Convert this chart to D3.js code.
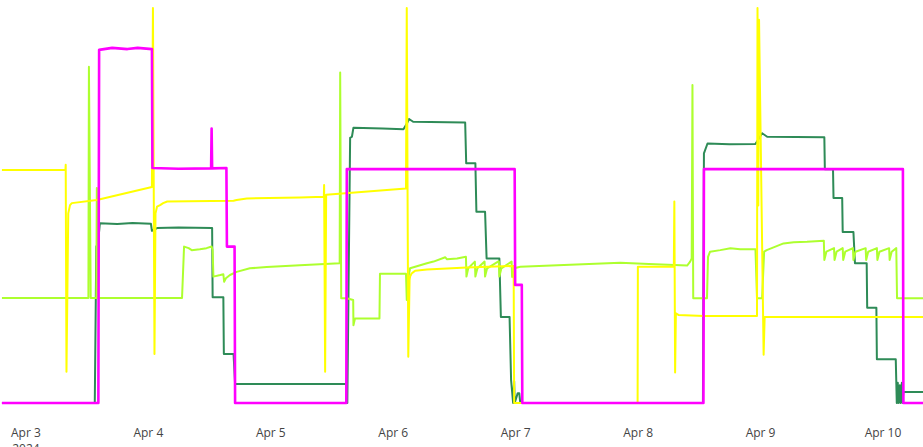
<!DOCTYPE html>
<html>
<head>
<meta charset="utf-8">
<script src="https://cdn.jsdelivr.net/npm/d3@7"></script>
<style>
  html, body { margin: 0; padding: 0; background: #fff; }
  svg { display: block; }
</style>
</head>
<body>
<svg id="chart" width="923" height="447"></svg>
<script>
// Time is given in hours after 2024-04-03 00:00; values in percent of the plot height.
const tickLabels = ["Apr 3", "Apr 4", "Apr 5", "Apr 6", "Apr 7", "Apr 8", "Apr 9", "Apr 10"];
const tickYear = "2024";

const seriesGreen = [
  [-4.6,0],[13.6,0],[13.9,39.7],[14.2,40.0],[14.6,45.5],[18,45.3],[21,45.6],[24.6,45.4],[24.8,43.6],[25.8,44.3],
  [30,44.4],[36.6,44.3],[36.7,26.8],[38.8,26.8],[38.9,12.4],[40.8,12.4],[41.1,4.8],[63.0,4.8],[63.1,0],
  [63.65,67.1],[64.0,67.4],[64.3,69.7],[70,69.5],[74.1,69.3],[74.8,70.8],[75.2,71.9],[76.0,71.2],[86.2,71.0],
  [86.4,60.7],[88.2,60.7],[88.4,48.4],[90.1,48.4],[90.4,36.6],[92.9,36.6],[93.2,21.8],[94.9,21.8],[95.2,5.8],
  [95.6,0],[95.8,5.5],[95.9,0],[96.5,2.5],[96.8,2.5],[97.0,0],[132.8,0],[133.0,63.2],[133.7,65.7],[138,65.5],
  [143.1,65.6],[143.4,66.2],[144.4,68.3],[145.4,67.4],[156.6,67.3],[156.7,59.2],[158.3,59.2],[158.4,51.9],
  [160.1,51.9],[160.2,43.3],[162.3,43.3],[162.6,35.4],[164.9,35.4],[165.0,24.1],[166.8,24.1],[166.9,11.1],
  [170.6,11.1],[170.8,0],[171.0,5.1],[171.1,0],[171.4,4.5],[171.5,0],[171.8,5.1],[171.9,0],[172.1,2.8],[176,2.8]
];

const seriesLime = [
  [-4.6,26.6],[12.35,26.6],[12.45,85.1],[12.8,26.6],[13.9,26.6],[14.0,54.4],[14.2,26.6],[30.7,26.6],[31.1,39.6],
  [32.0,39.2],[32.6,38.7],[34.2,38.9],[35.5,39.2],[36.5,39.6],[36.7,38.7],[36.85,32.0],[38.2,32.4],[38.8,32.6],
  [38.95,30.7],[39.3,31.6],[40.1,32.4],[41.4,33.2],[44.0,34.1],[47.3,34.4],[53.8,34.9],[61.6,35.4],[61.7,83.7],
  [61.9,26.5],[63.0,26.5],[64.25,26.1],[64.3,19.7],[64.6,21.4],[69.4,21.4],[69.5,32.7],[74.6,32.7],[74.75,26.1],
  [75.1,32.0],[75.4,34.1],[76.4,34.5],[78.7,35.4],[80.0,35.8],[82.3,36.9],[82.6,36.4],[84.6,36.6],[86.35,37.0],
  [86.45,32.0],[86.8,34.1],[88.1,35.8],[88.2,32.0],[88.6,34.1],[90.0,35.8],[90.1,32.0],[90.5,34.1],[92.8,35.9],
  [92.9,32.0],[93.3,34.1],[95.3,35.8],[95.4,31.9],[96.0,34.2],[97.0,34.5],[116.6,35.5],[122.2,35.2],[129.7,34.8],
  [130.3,35.8],[130.6,36.6],[130.75,80.5],[130.9,26.5],[133.6,26.5],[133.8,37.0],[134.2,38.3],[136.2,38.7],
  [138.2,39.2],[140.1,38.9],[143.1,38.9],[143.4,26.5],[144.4,26.5],[144.8,38.3],[145.3,38.7],[148.6,40.4],
  [150.6,40.7],[153.2,40.8],[156.5,41.1],[156.6,36.2],[157.0,38.3],[158.5,39.2],[158.6,36.2],[159.0,38.3],
  [160.2,39.2],[160.3,36.2],[160.7,38.3],[162.2,39.2],[162.3,36.2],[162.7,38.3],[164.7,39.2],[164.8,36.2],
  [165.2,38.3],[166.9,39.2],[167.0,36.2],[167.4,38.3],[169.3,39.2],[169.4,36.2],[169.8,38.3],[170.7,39.2],
  [170.85,26.5],[176,26.5]
];

const seriesYellow = [
  [-4.6,59.0],[7.85,59.0],[7.9,60.3],[8.05,7.9],[8.4,48.0],[8.75,50.1],[9.1,50.6],[14.0,51.4],[24.8,54.7],
  [25.0,100],[25.3,12.4],[25.5,48.0],[25.8,49.7],[26.4,50.1],[27.0,50.6],[27.8,51.0],[40.8,51.2],[41.4,51.4],
  [43.4,51.8],[53.8,52.0],[58.5,52.2],[58.55,55.2],[58.75,7.9],[58.95,52.7],[74.6,54.3],[74.75,100],[75.05,11.7],
  [75.3,31.1],[75.4,32.0],[75.7,32.8],[76.1,33.2],[76.4,33.5],[78.7,33.8],[86.5,34.3],[95.7,34.7],[95.8,0],
  [120.0,0],[120.05,34.5],[127.1,34.5],[127.2,51.0],[127.35,7.7],[127.5,22.7],[128.0,22.3],[133.0,22.0],
  [143.4,22.0],[143.5,100],[143.65,50],[143.8,97.0],[144.7,12.2],[144.9,21.8],[176,21.8]
];

const seriesMagenta = [
  [-4.6,0],[14.3,0],[14.45,89.4],[17,89.9],[20,89.6],[22,89.9],[24.8,89.6],[24.9,59.5],[30,59.3],[36.4,59.4],
  [36.5,69.5],[36.6,59.4],[39.4,59.5],[39.5,39.6],[41.0,39.6],[41.1,0],[62.9,0],[63.0,59.2],[95.9,59.2],
  [96.0,29.9],[97.3,29.9],[97.4,0],[132.9,0],[133.0,59.2],[172.0,59.2],[172.1,0],[176,0]
];

const seriesList = [
  { name: "green", color: "#2e8b57", width: 2, data: seriesGreen },
  { name: "lime", color: "#adff2f", width: 2, data: seriesLime },
  { name: "yellow", color: "#ffff00", width: 2, data: seriesYellow },
  { name: "magenta", color: "#ff00ff", width: 2.6, data: seriesMagenta }
];

const W = 923, H = 447;
const base = new Date(2024, 3, 3);
const toDate = h => new Date(base.getTime() + h * 3600 * 1000);

const x = d3.scaleTime()
  .domain([new Date(2024, 3, 3), new Date(2024, 3, 10)])
  .range([25.4, 882.5]);
const y = d3.scaleLinear().domain([0, 100]).range([403, 8]);

const svg = d3.select("#chart");
svg.append("rect").attr("width", W).attr("height", H).attr("fill", "#fff");

svg.append("clipPath").attr("id", "plotclip")
  .append("rect").attr("x", 0).attr("y", 0).attr("width", W).attr("height", 415);

const line = d3.line()
  .x(d => x(toDate(d[0])))
  .y(d => y(d[1]));

const g = svg.append("g").attr("clip-path", "url(#plotclip)");
seriesList.forEach(s => {
  g.append("path")
    .datum(s.data)
    .attr("fill", "none")
    .attr("stroke", s.color)
    .attr("stroke-width", s.width)
    .attr("stroke-linejoin", "round")
    .attr("d", line);
});

const tickDates = tickLabels.map((_, i) => new Date(2024, 3, 3 + i));
const axis = d3.axisBottom(x)
  .tickValues(tickDates)
  .tickSize(0)
  .tickFormat((d, i) => tickLabels[i]);

const ax = svg.append("g").attr("transform", "translate(0,437)").call(axis);
ax.select(".domain").remove();
ax.selectAll("text")
  .attr("y", 0).attr("dy", 0)
  .attr("fill", "#444")
  .style("font-family", "'Open Sans', verdana, arial, sans-serif")
  .style("font-size", "12px");
ax.selectAll(".tick").filter((d, i) => i === 0).select("text")
  .append("tspan").attr("x", 0).attr("dy", "1.3em").text(tickYear);
</script>
</body>
</html>
